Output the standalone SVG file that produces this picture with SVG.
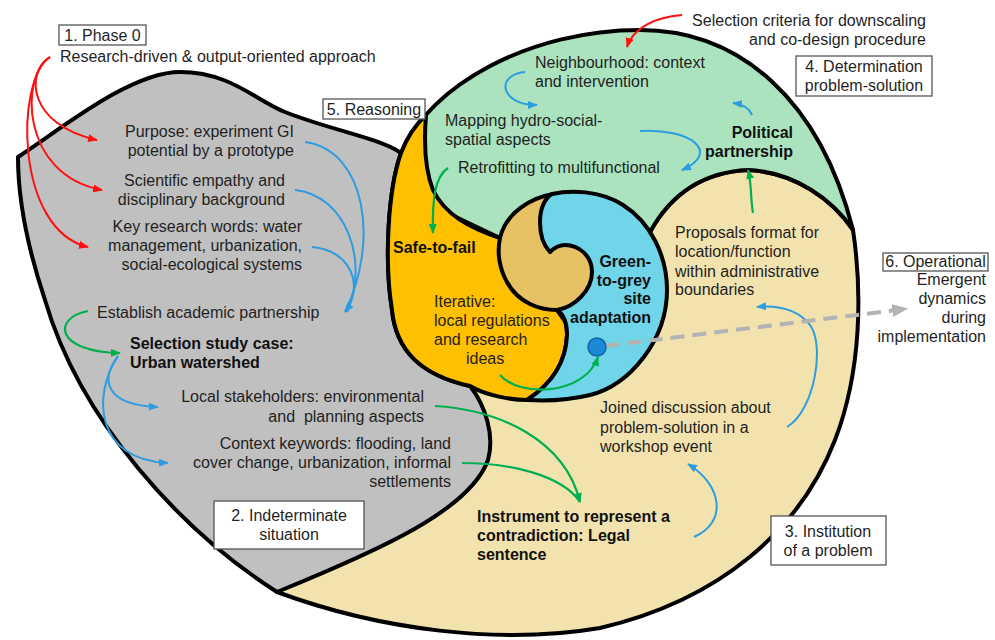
<svg xmlns="http://www.w3.org/2000/svg" width="995" height="640" viewBox="0 0 995 640">
<style>
.rg{stroke:#000;stroke-width:4;stroke-linejoin:round}
.t{font-family:"Liberation Sans",Arial,sans-serif;font-size:16px;fill:#1f1f1f}
.b{font-weight:bold;fill:#111}
.e{text-anchor:end}
.m{text-anchor:middle}
.box{fill:#fff;stroke:#555;stroke-width:1.3}
.red{fill:none;stroke:#ff1010;stroke-width:2}
.blu{fill:none;stroke:#2d9ce0;stroke-width:2}
.grn{fill:none;stroke:#00b050;stroke-width:2.2}
</style>
<defs>
<marker id="mr" viewBox="0 0 10 8" refX="9" refY="4" markerWidth="10" markerHeight="8" markerUnits="userSpaceOnUse" orient="auto"><path d="M0,0 L10,4 L0,8 z" fill="#ff1010"/></marker>
<marker id="mb" viewBox="0 0 10 8" refX="9" refY="4" markerWidth="10" markerHeight="8" markerUnits="userSpaceOnUse" orient="auto"><path d="M0,0 L10,4 L0,8 z" fill="#2d9ce0"/></marker>
<marker id="mg" viewBox="0 0 10 8" refX="9" refY="4" markerWidth="10" markerHeight="8" markerUnits="userSpaceOnUse" orient="auto"><path d="M0,0 L10,4 L0,8 z" fill="#00b050"/></marker>
<marker id="mgr" viewBox="0 0 10 8" refX="8" refY="4" markerWidth="16" markerHeight="13" markerUnits="userSpaceOnUse" orient="auto"><path d="M0,0 L10,4 L0,8 z" fill="#b3b3b3"/></marker>
</defs>

<g id="regions">
<path id="beige" class="rg" fill="#f2e2ae" d="M277,592 C380,630 500,645 600,628 C720,600 800,530 835,440 C862,370 862,290 853,230 C833,200 795,172 748,170 C705,172 672,192 650,232 L610,330 L470,386 Z"/>
<path id="gray" class="rg" fill="#c0c0c0" d="M18,157 C60,130 130,72 180,72 C230,72 255,100 285,112 C330,130 380,138 401,153 C388,190 384,260 392,310 C396,350 420,375 470,386 C485,405 495,435 488,460 C470,510 380,550 277,592 C180,530 80,420 45,300 C25,240 18,190 18,157 Z"/>
<path id="green" class="rg" fill="#abe3bf" d="M401,153 C430,85 530,30 640,30 C740,30 820,100 853,230 C833,200 795,172 748,170 C705,172 672,192 650,232 L600,240 L540,260 L500,238 L420,200 Z"/>
<path id="yellow" class="rg" fill="#ffc000" d="M401,153 C406,140 415,125 426,115 C424,140 425,170 433,190 C445,215 470,228 500,238 L530,290 L557,310 C563,314 567,322 567,335 C566,365 550,385 527,400 C510,400 485,395 470,386 C420,375 396,350 392,310 C384,260 388,190 401,153 Z"/>
<path id="tan" class="rg" fill="#e6c265" d="M553,194 C530,198 506,213 500,238 C495,262 505,292 530,304 C540,309 550,310 557,310 L575,335 L640,300 L620,230 L590,215 Z"/>
<path id="cyan" class="rg" fill="#70d5e8" d="M552,194 C570,190 600,190 623,205 C650,222 667,255 667,290 C667,340 630,385 590,395 C570,400 545,401 527,400 C550,385 566,365 567,335 C567,322 563,314 557,310 C575,307 592,290 592,272 C592,255 578,245 565,245 C558,245 552,250 550,252 C543,245 540,235 540,222 C540,208 545,198 552,194 Z"/>
</g>

<g id="connectors">
<path class="red" marker-end="url(#mr)" d="M50,57 C25,72 28,125 97,140"/>
<path class="red" marker-end="url(#mr)" d="M50,57 C20,75 20,175 102,190"/>
<path class="red" marker-end="url(#mr)" d="M50,57 C15,80 15,230 88,247"/>
<path class="red" marker-end="url(#mr)" d="M682,15 C655,17 633,28 627,47"/>
<path class="blu" d="M305,142 C365,150 380,240 345,312"/>
<path class="blu" d="M295,190 C345,195 370,260 347,312"/>
<path class="blu" marker-end="url(#mb)" d="M312,247 C350,250 365,285 345,312"/>
<path class="blu" marker-end="url(#mb)" d="M118,356 C100,380 105,405 158,407"/>
<path class="blu" marker-end="url(#mb)" d="M118,356 C92,395 95,460 168,463"/>
<path class="blu" marker-end="url(#mb)" d="M525,72 C495,75 500,105 537,105"/>
<path class="blu" marker-end="url(#mb)" d="M640,131 C690,128 722,152 682,170"/>
<path class="blu" marker-end="url(#mb)" d="M752,115 C749,108 742,104 733,103"/>
<path class="blu" marker-end="url(#mb)" d="M787,427 C815,410 825,345 810,325 C798,310 780,305 757,307"/>
<path class="blu" marker-end="url(#mb)" d="M694,537 C728,522 722,485 688,464"/>
<path class="grn" marker-end="url(#mg)" d="M88,311 C52,318 55,352 120,353"/>
<path class="grn" marker-end="url(#mg)" d="M435,406 C500,410 565,440 580,502"/>
<path class="grn" d="M462,463 C510,463 562,475 580,502"/>
<path class="grn" marker-end="url(#mg)" d="M448,168 C435,176 432,200 433,233"/>
<path class="grn" marker-end="url(#mg)" d="M500,375 C520,398 585,395 598,357"/>
<path class="grn" marker-end="url(#mg)" d="M753,213 C750,195 752,185 748,170"/>
<path fill="none" stroke="#b3b3b3" stroke-width="4" stroke-dasharray="14 8" marker-end="url(#mgr)" d="M605,346 L905,309"/>
</g>

<g id="dot"><circle cx="597" cy="347" r="9" fill="#1b8ad6" stroke="#1565a8" stroke-width="1.5"/></g>

<g id="phase1">
<rect class="box" x="59" y="25" width="87" height="20"/>
<text class="t m" x="102.5" y="41">1. Phase 0</text>
<text class="t" x="60" y="62">Research-driven &amp; output-oriented approach</text>
</g>
<g id="reasoning-label">
<rect class="box" x="323" y="99" width="102" height="20"/>
<text class="t m" x="374" y="115">5. Reasoning</text>
</g>
<g id="indeterminate-label">
<rect class="box" x="214" y="501" width="150" height="48"/>
<text class="t m" x="289" y="521">2. Indeterminate</text>
<text class="t m" x="289" y="540">situation</text>
</g>
<g id="institution-label">
<rect class="box" x="771" y="516" width="115" height="49"/>
<text class="t m" x="828" y="537">3. Institution</text>
<text class="t m" x="828" y="556">of a problem</text>
</g>
<g id="determination-label">
<rect class="box" x="796" y="56" width="136" height="40"/>
<text class="t m" x="864" y="72">4. Determination</text>
<text class="t m" x="864" y="91">problem-solution</text>
</g>
<g id="operational-label">
<rect class="box" x="883" y="253" width="105" height="18"/>
<text class="t m" x="935.5" y="267">6. Operational</text>
<text class="t e" x="986" y="285">Emergent</text>
<text class="t e" x="986" y="304">dynamics</text>
<text class="t e" x="986" y="323">during</text>
<text class="t e" x="986" y="342">implementation</text>
</g>
<g id="selection-criteria">
<text class="t e" x="926" y="26">Selection criteria for downscaling</text>
<text class="t e" x="926" y="45">and co-design procedure</text>
</g>

<g id="gray-texts">
<text class="t e" x="294" y="137">Purpose: experiment GI</text>
<text class="t e" x="294" y="156">potential by a prototype</text>
<text class="t e" x="285" y="186">Scientific empathy and</text>
<text class="t e" x="285" y="205">disciplinary background</text>
<text class="t e" x="302" y="232">Key research words: water</text>
<text class="t e" x="302" y="251">management, urbanization,</text>
<text class="t e" x="302" y="270">social-ecological systems</text>
<text class="t" x="97" y="318">Establish academic partnership</text>
<text class="t b" x="130" y="349">Selection study case:</text>
<text class="t b" x="130" y="368">Urban watershed</text>
<text class="t e" x="424" y="402">Local stakeholders: environmental</text>
<text class="t e" x="424" y="422" xml:space="preserve">and  planning aspects</text>
<text class="t e" x="451" y="449">Context keywords: flooding, land</text>
<text class="t e" x="451" y="468">cover change, urbanization, informal</text>
<text class="t e" x="451" y="487">settlements</text>
</g>
<g id="green-texts">
<text class="t" x="535" y="68">Neighbourhood: context</text>
<text class="t" x="535" y="87">and intervention</text>
<text class="t" x="445" y="126">Mapping hydro-social-</text>
<text class="t" x="445" y="145">spatial aspects</text>
<text class="t" x="458" y="173">Retrofitting to multifunctional</text>
<text class="t b e" x="793" y="138">Political</text>
<text class="t b e" x="793" y="157">partnership</text>
</g>
<g id="yellow-texts">
<text class="t b" x="393" y="253">Safe-to-fail</text>
<text class="t" x="434" y="307">Iterative:</text>
<text class="t" x="434" y="326">local regulations</text>
<text class="t" x="434" y="345">and research</text>
<text class="t" x="466" y="364">ideas</text>
</g>
<g id="cyan-texts">
<text class="t b e" x="651" y="267">Green-</text>
<text class="t b e" x="651" y="286">to-grey</text>
<text class="t b e" x="651" y="304">site</text>
<text class="t b e" x="651" y="323">adaptation</text>
</g>
<g id="beige-texts">
<text class="t" x="675" y="238">Proposals format for</text>
<text class="t" x="675" y="257">location/function</text>
<text class="t" x="675" y="277">within administrative</text>
<text class="t" x="675" y="295">boundaries</text>
<text class="t" x="600" y="413">Joined discussion about</text>
<text class="t" x="600" y="433">problem-solution in a</text>
<text class="t" x="600" y="452">workshop event</text>
<text class="t b" x="477" y="522">Instrument to represent a</text>
<text class="t b" x="477" y="541">contradiction: Legal</text>
<text class="t b" x="477" y="560">sentence</text>
</g>
</svg>
